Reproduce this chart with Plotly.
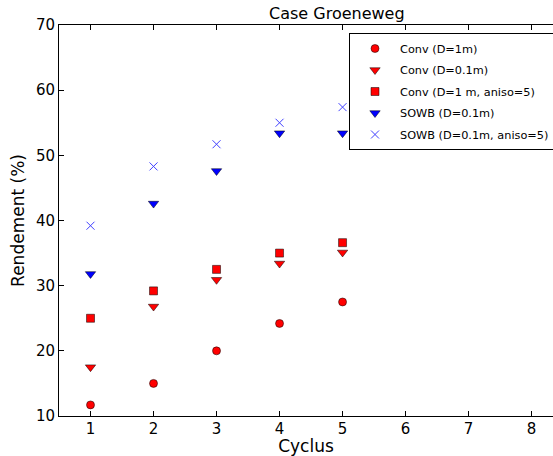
import plotly.graph_objects as go

cyclus = [1, 2, 3, 4, 5]
conv_d1 = [11.7, 15.0, 20.0, 24.2, 27.5]
conv_d01 = [17.5, 26.8, 30.9, 33.4, 35.1]
conv_d1_aniso = [25.0, 29.2, 32.5, 35.0, 36.6]
sowb_d01 = [31.8, 42.6, 47.6, 53.4, 53.4]
sowb_d01_aniso = [39.2, 48.3, 51.7, 55.0, 57.4]

names = ["Conv (D=1m)", "Conv (D=0.1m)", "Conv (D=1 m, aniso=5)",
         "SOWB (D=0.1m)", "SOWB (D=0.1m, aniso=5)"]
series = [conv_d1, conv_d01, conv_d1_aniso, sowb_d01, sowb_d01_aniso]
styles = [
    dict(symbol="circle", size=8, color="#ff0000", line=dict(color="#000000", width=0.5)),
    dict(symbol="triangle-down", size=9, color="#ff0000", line=dict(color="#000000", width=0.5)),
    dict(symbol="square", size=8, color="#ff0000", line=dict(color="#000000", width=0.5)),
    dict(symbol="triangle-down", size=9, color="#0000ff", line=dict(color="#000000", width=0.5)),
    dict(symbol="x-thin", size=8, color="#4040ff", line=dict(color="#4040ff", width=1)),
]

fig = go.Figure()
for i, (n, s, st) in enumerate(zip(names, series, styles)):
    fig.add_trace(go.Scatter(x=cyclus, y=s, mode="markers", name=n, marker=st,
                             legendgroup=f"g{i}"))

font = "DejaVu Sans"
xticks = [1, 2, 3, 4, 5, 6, 7, 8]
fig.update_layout(
    width=553, height=456,
    margin=dict(l=59, r=0, t=25, b=40, autoexpand=False),
    paper_bgcolor="white", plot_bgcolor="white",
    font=dict(family=font, color="black"),
    title=dict(text="Case Groeneweg", x=311 / 553, xref="paper", xanchor="center",
               yref="container", y=1 - 13 / 456, yanchor="middle",
               font=dict(size=16, family=font)),
    showlegend=True,
    legend=dict(x=(349 - 59) / 494, y=1 - 8 / 391, xanchor="left", yanchor="top",
                bordercolor="black", borderwidth=1, bgcolor="white",
                font=dict(size=11.3, family=font), itemwidth=40,
                tracegroupgap=2.5),
)
fig.update_xaxes(range=[0.5, 8.34], tickvals=xticks, automargin=False,
                 ticks="inside", ticklen=5, tickcolor="black", showline=True,
                 linecolor="black", linewidth=1, mirror="ticks", showgrid=False, zeroline=False,
                 tickfont=dict(size=15), ticklabelstandoff=-1,
                 title=dict(text="Cyclus", font=dict(size=17), standoff=1))
fig.update_yaxes(range=[10, 70], tickvals=[10, 20, 30, 40, 50, 60, 70], automargin=False,
                 ticks="inside", ticklen=5, tickcolor="black", showline=True,
                 linecolor="black", linewidth=1, mirror=False, showgrid=False, zeroline=False,
                 tickfont=dict(size=15), title=dict(text="Rendement (%)", font=dict(size=17), standoff=6))

fig.write_html("out.html")
